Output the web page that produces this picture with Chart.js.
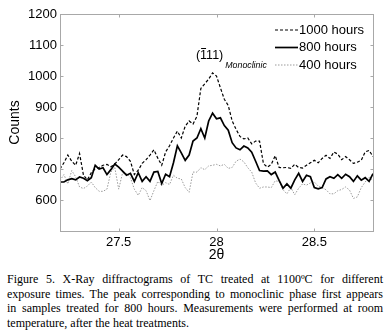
<!DOCTYPE html>
<html lang="en">
<head>
  <meta charset="UTF-8" />
  <title>X-Ray diffractograms of TC</title>
  <script src="https://cdn.jsdelivr.net/npm/chart.js"></script>
  <style>
    html, body { margin: 0; padding: 0; background: #fff; }
    #wrap { position: relative; width: 385px; height: 332px; overflow: hidden; }
    #xrd { position: absolute; left: 0; top: 0; }
    #caption {
      position: absolute; left: 7px; top: 272px; width: 376px;
      font-family: 'Liberation Serif', 'Times New Roman', serif;
      font-size: 12px; line-height: 14.7px; color: #000;
    }
    #caption div { text-align: justify; text-align-last: justify; white-space: nowrap; }
    #caption div.last { text-align-last: left; }
  </style>
</head>
<body>
  <div id="wrap">
    <canvas id="xrd" width="385" height="268"></canvas>
    <div id="caption">
      <div>Figure 5. X-Ray diffractograms of TC treated at 1100ºC for different</div>
      <div>exposure times. The peak corresponding to monoclinic phase first appears</div>
      <div>in samples treated for 800 hours. Measurements were performed at room</div>
      <div class="last">temperature, after the heat treatments.</div>
    </div>
  </div>

  <script>
    // 2theta positions (deg)
    const twoTheta = [
      27.20, 27.22, 27.24, 27.26, 27.28, 27.30, 27.32, 27.34, 27.36, 27.38,
      27.40, 27.42, 27.44, 27.46, 27.48, 27.50, 27.52, 27.54, 27.56, 27.58,
      27.60, 27.62, 27.64, 27.66, 27.68, 27.70, 27.72, 27.74, 27.76, 27.78,
      27.80, 27.82, 27.84, 27.86, 27.88, 27.90, 27.92, 27.94, 27.96, 27.98,
      28.00, 28.02, 28.04, 28.06, 28.08, 28.10, 28.12, 28.14, 28.16, 28.18,
      28.20, 28.22, 28.24, 28.26, 28.28, 28.30, 28.32, 28.34, 28.36, 28.38,
      28.40, 28.42, 28.44, 28.46, 28.48, 28.50, 28.52, 28.54, 28.56, 28.58,
      28.60, 28.62, 28.64, 28.66, 28.68, 28.70, 28.72, 28.74, 28.76, 28.78,
      28.80
    ];
    const counts1000h = [
      700, 720, 745, 725, 712, 750, 680, 665, 688, 701,
      705, 712, 715, 707, 716, 730, 745, 740, 725, 682,
      696, 718, 730, 745, 762, 735, 712, 755, 775, 800,
      822, 800, 838, 855, 845, 870, 960, 975, 990, 1010,
      1000, 962, 925, 905, 855, 828, 805, 797, 800, 781,
      790, 790, 717, 706, 715, 743, 705, 704, 705, 702,
      715, 705, 703, 712, 720, 728, 720, 734, 744, 734,
      755, 748, 730, 740, 730, 718, 722, 728, 755, 760,
      740
    ];
    const counts800h = [
      658, 658, 665, 669, 665, 674, 670, 662, 672, 712,
      700, 704, 682, 698, 716, 706, 693, 680, 686, 660,
      688, 660, 675, 660, 690, 692, 653, 683, 675, 720,
      775, 752, 728, 745, 790, 800, 830, 800, 855, 880,
      862, 865, 840, 825, 785, 768, 762, 774, 768, 754,
      725, 695, 693, 694, 682, 690, 663, 638, 652, 638,
      665, 686, 660, 680, 675, 640, 636, 640, 668, 675,
      670, 682, 670, 683, 675, 660, 678, 664, 672, 660,
      685
    ];
    const counts400h = [
      663, 682, 652, 695, 675, 642, 637, 645, 658, 640,
      628, 628, 635, 690, 705, 635, 688, 685, 672, 635,
      615, 640, 630, 598, 630, 660, 647, 656, 650, 680,
      670, 668, 640, 625, 690, 690, 704, 698, 710, 712,
      715, 710, 715, 702, 705, 725, 732, 723, 704, 690,
      655, 638, 642, 642, 640, 662, 660, 633, 620, 640,
      617, 638, 652, 648, 655, 658, 645, 640, 633, 620,
      620, 630, 634, 642, 632, 605, 610, 640, 658, 674,
      663
    ];
    const seriesLabels = ['1000 hours', '800 hours', '400 hours'];
    const xTicks = [27.5, 28, 28.5];

    const sans = '"Liberation Sans", Arial, Helvetica, sans-serif';
    const toPoints = ys => ys.map((y, i) => ({ x: twoTheta[i], y }));

    // MATLAB-like box with inward tick marks
    const axesBox = {
      id: 'axesBox',
      afterDraw(chart) {
        const { ctx, chartArea: a, scales: { x, y } } = chart;
        const L = Math.round(a.left) + 0.5, R = Math.round(a.right) + 0.5;
        const T = Math.round(a.top) + 0.5, B = Math.round(a.bottom) + 0.5;
        ctx.save();
        ctx.strokeStyle = '#a8a8a8';
        ctx.lineWidth = 1;
        ctx.strokeRect(L, T, R - L, B - T);
        ctx.beginPath();
        x.ticks.forEach(t => {
          const px = Math.round(x.getPixelForValue(t.value)) + 0.5;
          ctx.moveTo(px, B); ctx.lineTo(px, B - 3);
          ctx.moveTo(px, T); ctx.lineTo(px, T + 3);
        });
        y.ticks.forEach(t => {
          const py = Math.round(y.getPixelForValue(t.value)) + 0.5;
          ctx.moveTo(L, py); ctx.lineTo(L + 3, py);
          ctx.moveTo(R, py); ctx.lineTo(R - 3, py);
        });
        ctx.stroke();
        ctx.restore();
      }
    };

    // legend inside the plot, top right
    const innerLegend = {
      id: 'innerLegend',
      afterDraw(chart) {
        const { ctx, chartArea: a } = chart;
        ctx.save();
        ctx.font = '13px ' + sans;
        ctx.textBaseline = 'middle';
        chart.data.datasets.forEach((ds, i) => {
          const yy = a.top + 16 + i * 17.5;
          const x0 = a.right - 98;
          ctx.beginPath();
          ctx.setLineDash(ds.borderDash || []);
          ctx.lineWidth = ds.borderWidth;
          ctx.strokeStyle = ds.borderColor;
          ctx.moveTo(x0, yy); ctx.lineTo(x0 + 23, yy);
          ctx.stroke();
          ctx.setLineDash([]);
          ctx.fillStyle = '#000';
          ctx.fillText(ds.label, x0 + 24, yy);
        });
        ctx.restore();
      }
    };

    // (-111) Monoclinic peak label
    const peakLabel = {
      id: 'peakLabel',
      afterDraw(chart) {
        const { ctx, scales: { x, y } } = chart;
        const px = x.getPixelForValue(27.9) - 1;
        const py = y.getPixelForValue(1065);
        ctx.save();
        ctx.fillStyle = '#000';
        ctx.strokeStyle = '#000';
        ctx.textBaseline = 'middle';
        ctx.font = '12.5px ' + sans;
        const txt = '(111)';
        ctx.fillText(txt, px, py);
        const wParen = ctx.measureText('(').width;
        const wOne = ctx.measureText('1').width;
        ctx.lineWidth = 1;
        ctx.beginPath();
        ctx.moveTo(px + wParen + 1, Math.round(py - 8) + 0.5);
        ctx.lineTo(px + wParen + wOne - 1, Math.round(py - 8) + 0.5);
        ctx.stroke();
        const w = ctx.measureText(txt).width;
        ctx.font = 'italic 8.8px ' + sans;
        ctx.fillText('Monoclinic', px + w + 2, py + 10);
        ctx.restore();
      }
    };

    new Chart(document.getElementById('xrd'), {
      type: 'line',
      data: {
        datasets: [
          { label: seriesLabels[0], data: toPoints(counts1000h), borderColor: '#000', borderWidth: 1.2, borderDash: [3, 2] },
          { label: seriesLabels[1], data: toPoints(counts800h), borderColor: '#000', borderWidth: 1.7 },
          { label: seriesLabels[2], data: toPoints(counts400h), borderColor: '#9a9a9a', borderWidth: 1, borderDash: [1.5, 1.5] }
        ]
      },
      options: {
        responsive: false,
        animation: false,
        layout: { padding: { top: 14, right: 12, bottom: 0, left: 0 } },
        elements: { point: { radius: 0 }, line: { tension: 0, fill: false } },
        plugins: { legend: { display: false }, tooltip: { enabled: false } },
        scales: {
          x: {
            type: 'linear', min: 27.2, max: 28.8,
            grid: { display: false, drawTicks: false },
            border: { display: false },
            afterBuildTicks: s => { s.ticks = xTicks.map(v => ({ value: v })); },
            afterFit: s => { s.height = 37; },
            ticks: { color: '#000', padding: 4, font: { family: sans, size: 13 }, maxRotation: 0, callback: v => String(v) },
            title: { display: true, text: '2θ', color: '#000', font: { family: sans, size: 14 }, padding: { top: 0, bottom: 4 } }
          },
          y: {
            min: 500, max: 1200,
            grid: { display: false, drawTicks: false },
            border: { display: false },
            afterFit: s => { s.width = 60; },
            ticks: { stepSize: 100, color: '#000', padding: 3, font: { family: sans, size: 13 }, callback: v => v === 500 ? '' : v },
            title: { display: true, text: 'Counts', color: '#000', font: { family: sans, size: 14 }, padding: { top: 7, bottom: 0 } }
          }
        }
      },
      plugins: [axesBox, innerLegend, peakLabel]
    });
  </script>
</body>
</html>
